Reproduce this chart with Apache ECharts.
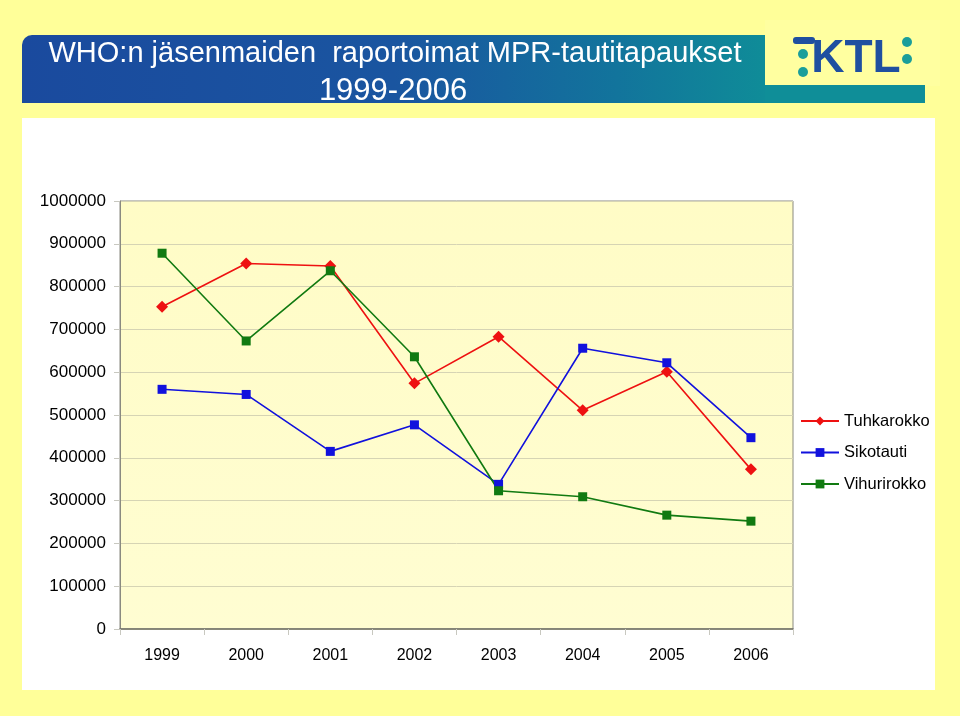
<!DOCTYPE html>
<html>
<head>
<meta charset="utf-8">
<script src="https://cdn.jsdelivr.net/npm/echarts@6/dist/echarts.min.js"></script>
<style>
  html, body { margin: 0; padding: 0; background: #ffff99; }
  #chart { width: 960px; height: 716px; }
</style>
</head>
<body>
<div id="chart"></div>
<script>
(() => {
  'use strict';

  // -------- Data --------
  const years = ['1999', '2000', '2001', '2002', '2003', '2004', '2005', '2006'];
  const tuhkarokko = [753000, 854000, 848000, 574000, 683000, 511000, 601000, 373000];
  const sikotauti = [560000, 548000, 415000, 477000, 338000, 656000, 622000, 447000];
  const vihurirokko = [878000, 673000, 837000, 636000, 323000, 309000, 266000, 252000];

  const titleLine1 = 'WHO:n jäsenmaiden  raportoimat MPR-tautitapaukset';
  const titleLine2 = '1999-2006';

  const FONT = '"Liberation Sans", Arial, sans-serif';

  const chart = echarts.init(document.getElementById('chart'), null, { renderer: 'canvas' });

  const mkSeries = (name, data, color, symbol, size) => ({
    name,
    type: 'line',
    data,
    symbol,
    symbolSize: size,
    lineStyle: { color, width: 1.6 },
    itemStyle: { color },
    emphasis: { disabled: true },
    z: 3,
  });

  const teal = '#1a9e9a';
  const logoBlue = '#1f4fa0';

  chart.setOption({
    animation: false,
    backgroundColor: '#ffff99',
    graphic: [
      // white panel
      { type: 'rect', z: -10, shape: { x: 22, y: 118, width: 913, height: 572 }, style: { fill: '#ffffff' } },
      // logo area, same yellow as page
      { type: 'rect', z: -9, shape: { x: 765, y: 20, width: 175, height: 66 }, style: { fill: '#ffffa0' } },
      // teal strip under logo
      { type: 'rect', z: -8, shape: { x: 740, y: 85, width: 185, height: 18 }, style: { fill: '#0f8e98' } },
      // banner
      {
        type: 'rect', z: -7,
        shape: { x: 22, y: 35, width: 743, height: 68, r: [10, 0, 0, 0] },
        style: {
          fill: new echarts.graphic.LinearGradient(0, 0, 1, 0, [
            { offset: 0, color: '#1a4a9e' },
            { offset: 0.5, color: '#1a55a0' },
            { offset: 0.8, color: '#12749c' },
            { offset: 1, color: '#0f8c98' },
          ]),
        },
      },
      {
        type: 'text', z: 10, x: 395, y: 39,
        style: { text: titleLine1, fill: '#ffffff', font: '29px ' + FONT, align: 'center' },
      },
      {
        type: 'text', z: 10, x: 393, y: 76,
        style: { text: titleLine2, fill: '#ffffff', font: '31px ' + FONT, align: 'center' },
      },
      // KTL logo
      { type: 'rect', z: 10, shape: { x: 793, y: 37, width: 22, height: 7, r: 3 }, style: { fill: logoBlue } },
      { type: 'text', z: 10, x: 856, y: 36, style: { text: 'KTL', fill: logoBlue, font: 'bold 46px ' + FONT, align: 'center' } },
      { type: 'circle', z: 10, shape: { cx: 803, cy: 54, r: 5 }, style: { fill: teal } },
      { type: 'circle', z: 10, shape: { cx: 803, cy: 72, r: 5 }, style: { fill: teal } },
      { type: 'circle', z: 10, shape: { cx: 907, cy: 42, r: 5 }, style: { fill: teal } },
      { type: 'circle', z: 10, shape: { cx: 907, cy: 59, r: 5 }, style: { fill: teal } },
    ],
    grid: {
      left: 120, right: 167, top: 201, bottom: 87,
      show: true,
      backgroundColor: new echarts.graphic.LinearGradient(0, 0, 0, 1, [
        { offset: 0, color: '#fffcc6' },
        { offset: 1, color: '#fffdd2' },
      ]),
      borderColor: '#8a8a80',
      borderWidth: 1,
    },
    legend: {
      orient: 'vertical',
      left: 795, top: 407,
      itemWidth: 38, itemHeight: 11, itemGap: 13.5,
      textStyle: { color: '#000', fontSize: 16.5, fontFamily: FONT, lineHeight: 18 },
      data: ['Tuhkarokko', 'Sikotauti', 'Vihurirokko'],
    },
    xAxis: {
      type: 'category',
      data: years,
      boundaryGap: true,
      axisLine: { lineStyle: { color: '#707068', width: 1.5 } },
      axisTick: { show: true, interval: 0, length: 6, lineStyle: { color: '#c8c8c0' } },
      axisLabel: { color: '#000', fontSize: 16, fontFamily: FONT, margin: 19 },
      splitLine: { show: false },
    },
    yAxis: {
      type: 'value',
      min: 0, max: 1000000, interval: 100000,
      axisLine: { show: true, lineStyle: { color: '#8a8a80' } },
      axisTick: { show: true, length: 6, lineStyle: { color: '#c8c8c0' } },
      axisLabel: { color: '#000', fontSize: 17, fontFamily: FONT, margin: 14, formatter: (v) => String(v) },
      splitLine: { lineStyle: { color: '#d6d4b4', width: 1 } },
    },
    series: [
      mkSeries('Tuhkarokko', tuhkarokko, '#ee1111', 'diamond', 12),
      mkSeries('Sikotauti', sikotauti, '#1111dd', 'rect', 9),
      mkSeries('Vihurirokko', vihurirokko, '#117a11', 'rect', 9),
    ],
  });
})();
</script>
</body>
</html>
